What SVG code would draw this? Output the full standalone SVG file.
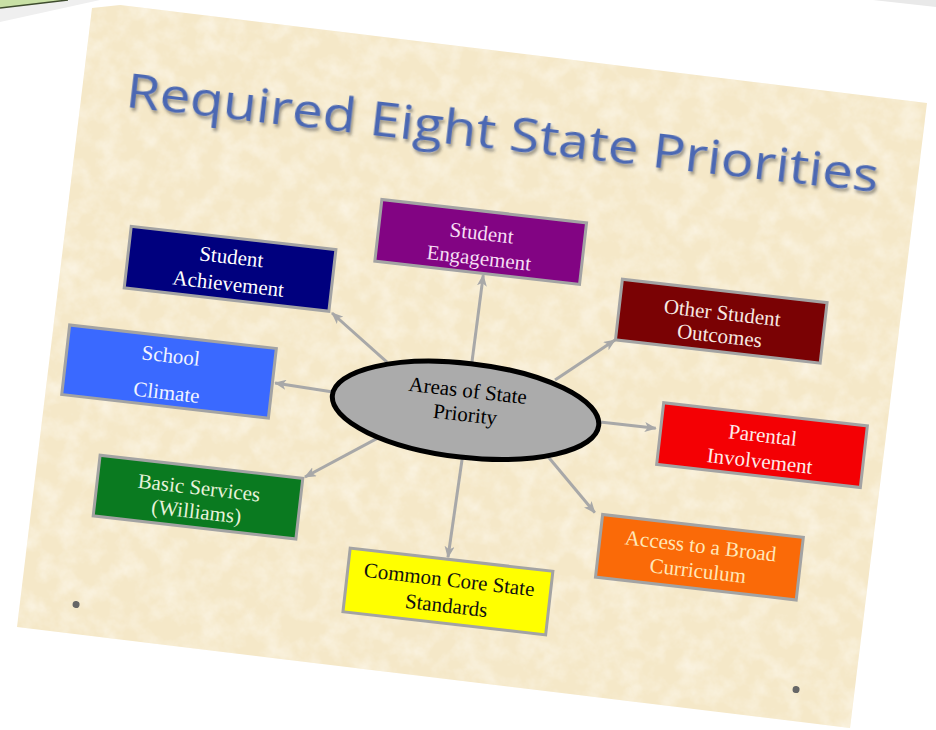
<svg xmlns="http://www.w3.org/2000/svg" width="936" height="730" viewBox="0 0 936 730">
  <defs>
    <style>
      .box { stroke: #A3A3A3; stroke-width: 3; }
      .lbl { font-family: "Liberation Serif", "DejaVu Serif", serif; font-size: 21px; text-anchor: middle; }
      .conn { stroke: #A8A8A8; stroke-width: 3; fill: none; marker-end: url(#arr); }
    </style>
    <marker id="arr" markerWidth="12" markerHeight="10" refX="11" refY="5" orient="auto" markerUnits="userSpaceOnUse">
      <path d="M0,0 L12,5 L0,10 L3,5 z" fill="#A8A8A8"/>
    </marker>
    <filter id="tex" x="0" y="0" width="100%" height="100%">
      <feTurbulence type="fractalNoise" baseFrequency="0.05" numOctaves="4" seed="7"/>
      <feColorMatrix type="matrix" values="0 0 0 0 1  0 0 0 0 0.98  0 0 0 0 0.93  1.0 0 0 0 -0.38"/>
      <feComposite in2="SourceGraphic" operator="in"/>
    </filter>
    <filter id="tshadow" x="-5%" y="-20%" width="110%" height="150%">
      <feDropShadow dx="2" dy="3" stdDeviation="1.6" flood-color="#2a2a2a" flood-opacity="0.45"/>
    </filter>
  </defs>

  <rect width="936" height="730" fill="#FFFFFF"/>

  <!-- edges of neighbouring slides -->
  <polygon points="0,8 68,0 100,0 0,22" fill="#EFEFEF"/>
  <polygon points="0,0 68,0 0,8" fill="#C9E1A6"/>
  <line x1="0" y1="8" x2="68" y2="0" stroke="#3E4C2E" stroke-width="1.5"/>
  <polygon points="873,0 936,0 936,7" fill="#E9E9E9"/>

  <!-- slide -->
  <polygon points="92,8 120,5 927,103 850,728 17,627" fill="#F5E8C8"/>
  <polygon points="92,8 120,5 927,103 850,728 17,627" fill="#000" filter="url(#tex)"/>

  <g transform="translate(88,5) rotate(6.5)">
    <text x="48" y="97" font-family="Open Sans, Liberation Sans, sans-serif" font-size="47" fill="#4B68B3" textLength="757" lengthAdjust="spacingAndGlyphs" filter="url(#tshadow)">Required Eight State Priorities</text>

    <circle cx="56" cy="597" r="3.5" fill="#666"/>
    <circle cx="781" cy="600" r="3.5" fill="#666"/>

    <g id="connectors">
      <line class="conn" x1="337.5" y1="320.9" x2="277.3" y2="278.4"/>
      <line class="conn" x1="287.2" y1="356.8" x2="228.6" y2="354.4"/>
      <line class="conn" x1="339" y1="396.1" x2="269" y2="444.4"/>
      <line class="conn" x1="421.9" y1="311.2" x2="423.3" y2="223.6"/>
      <line class="conn" x1="506.5" y1="319.7" x2="561.5" y2="273.2"/>
      <line class="conn" x1="555.9" y1="356.3" x2="612" y2="356.3"/>
      <line class="conn" x1="504.8" y1="393.4" x2="561" y2="447"/>
      <line class="conn" x1="423.3" y1="402.6" x2="420.2" y2="508"/>
    </g>

    <g id="center">
      <ellipse cx="421" cy="360" rx="134" ry="47" fill="#ABABAB" stroke="#000" stroke-width="5"/>
      <text class="lbl" x="421" y="347" fill="#000">Areas of State</text>
      <text class="lbl" x="421" y="371" fill="#000">Priority</text>
    </g>

    <g id="student-achievement">
      <rect class="box" x="68" y="215" width="206" height="62" fill="#00007E"/>
      <text class="lbl" x="171" y="241" fill="#FFFFFF">Student</text>
      <text class="lbl" x="171" y="268" fill="#FFFFFF">Achievement</text>
    </g>

    <g id="school-climate">
      <rect class="box" x="18" y="320" width="208" height="70" fill="#3A69FF"/>
      <text class="lbl" x="122" y="346" fill="#F2F4FF">School</text>
      <text class="lbl" x="122" y="383" fill="#F2F4FF">Climate</text>
    </g>

    <g id="basic-services">
      <rect class="box" x="63" y="446" width="204" height="61" fill="#0A7A20"/>
      <text class="lbl" x="165" y="474" fill="#E6F2DA">Basic Services</text>
      <text class="lbl" x="165" y="498" fill="#E6F2DA">(Williams)</text>
    </g>

    <g id="student-engagement">
      <rect class="box" x="314" y="160" width="206" height="62" fill="#820483"/>
      <text class="lbl" x="417" y="189" fill="#F6DDF4">Student</text>
      <text class="lbl" x="417" y="214" fill="#F6DDF4">Engagement</text>
    </g>

    <g id="other-student-outcomes">
      <rect class="box" x="562" y="212" width="206" height="61" fill="#7A0204"/>
      <text class="lbl" x="665" y="241" fill="#F7E9E2">Other Student</text>
      <text class="lbl" x="665" y="264" fill="#F7E9E2">Outcomes</text>
    </g>

    <g id="parental-involvement">
      <rect class="box" x="617" y="330" width="205" height="62" fill="#F40004"/>
      <text class="lbl" x="719" y="358" fill="#FDEBEA">Parental</text>
      <text class="lbl" x="719" y="384" fill="#FDEBEA">Involvement</text>
    </g>

    <g id="access-broad-curriculum">
      <rect class="box" x="569" y="448" width="202" height="63" fill="#FA6A08"/>
      <text class="lbl" x="670" y="475" fill="#FFE7B8">Access to a Broad</text>
      <text class="lbl" x="670" y="500" fill="#FFE7B8">Curriculum</text>
    </g>

    <g id="common-core">
      <rect class="box" x="322" y="510" width="204" height="64" fill="#FFFF00"/>
      <text class="lbl" x="424" y="537" fill="#111">Common Core State</text>
      <text class="lbl" x="424" y="563" fill="#111">Standards</text>
    </g>
  </g>
</svg>
